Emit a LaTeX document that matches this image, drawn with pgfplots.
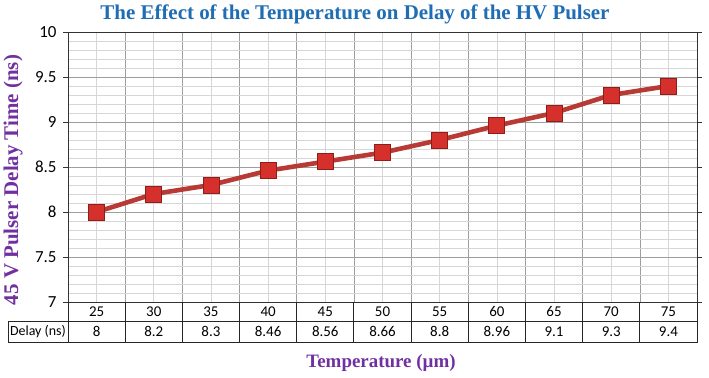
\documentclass[border=0pt]{standalone}
\usepackage{pgfplots}
\pgfplotsset{compat=1.18}
\usepackage{fontspec}
\setmainfont{Liberation Serif}
\newfontfamily\calibri{Carlito}
\definecolor{titleblue}{HTML}{1F6DB3}
\definecolor{purp}{HTML}{7030A0}
\definecolor{linered}{HTML}{B83A34}
\definecolor{markred}{HTML}{D5302C}
\definecolor{markedge}{HTML}{8E1E1A}
\begin{document}
\begin{tikzpicture}[x=1bp,y=1bp]
\useasboundingbox (0,0) rectangle (709,377);
\begin{axis}[at={(68bp,75bp)}, anchor=south west, scale only axis,
  width=629bp, height=270bp,
  xmin=-0.5, xmax=10.5, ymin=7, ymax=10,
  xtick={-0.5,0.5,1.5,2.5,3.5,4.5,5.5,6.5,7.5,8.5,9.5,10.5}, xticklabels={},
  minor xtick={0,1,2,3,4,5,6,7,8,9,10},
  ytick={7,7.5,8,8.5,9,9.5,10}, minor y tick num=4,
  grid=both,
  major grid style={draw=black!38, line width=0.6pt},
  minor grid style={draw=black!16, line width=0.6pt},
  xtick style={draw=none},
  minor tick length=0pt,
  ytick style={draw=black!80, line width=0.6pt},
  tick align=outside, major tick length=5bp,
  axis line style={draw=black!80, line width=0.8pt},
  yticklabel style={font=\calibri\fontsize{17}{17}\selectfont, xshift=-3bp},
  /pgf/number format/assume math mode=true,
  clip=false]
\addplot[color=linered, line width=4.6bp, mark=square*,
  mark size=8bp, mark options={fill=markred, draw=markedge, line width=0.8bp}]
  coordinates {(0,8)(1,8.2)(2,8.3)(3,8.46)(4,8.56)(5,8.66)(6,8.8)(7,8.96)(8,9.1)(9,9.3)(10,9.4)};
\end{axis}
% data table below the axis
\draw[black!85, line width=0.9pt] (8,56) rectangle (697,35);
\draw[black!85, line width=0.9pt] (68,56) -- (697,56);
\foreach \k in {0,...,11} {
  \draw[black!85, line width=0.9pt] ({68+57.1818*\k},75) -- ({68+57.1818*\k},35);
}
\draw[black!85, line width=0.9pt] (697,75) -- (697,35);
\foreach \c [count=\i from 0] in {25,30,35,40,45,50,55,60,65,70,75} {
  \node[font=\calibri\fontsize{15}{15}\selectfont] at ({68+57.1818*(\i+0.5)},65.5) {\c};
}
\foreach \v [count=\i from 0] in {8,8.2,8.3,8.46,8.56,8.66,8.8,8.96,9.1,9.3,9.4} {
  \node[font=\calibri\fontsize{15}{15}\selectfont] at ({68+57.1818*(\i+0.5)},45.5) {\v};
}
\node[font=\calibri\fontsize{14}{14}\selectfont] at (38,45.5) {Delay (ns)};
% titles
\node[font=\bfseries\fontsize{21}{21}\selectfont, text=titleblue] at (355,363) {The Effect of the Temperature on Delay of the HV Pulser};
\node[font=\bfseries\fontsize{21}{21}\selectfont, text=purp, rotate=90] at (13,197) {45 V Pulser Delay Time (ns)};
\node[font=\bfseries\fontsize{19}{19}\selectfont, text=purp] at (381,14) {Temperature (µm)};
\end{tikzpicture}
\end{document}
